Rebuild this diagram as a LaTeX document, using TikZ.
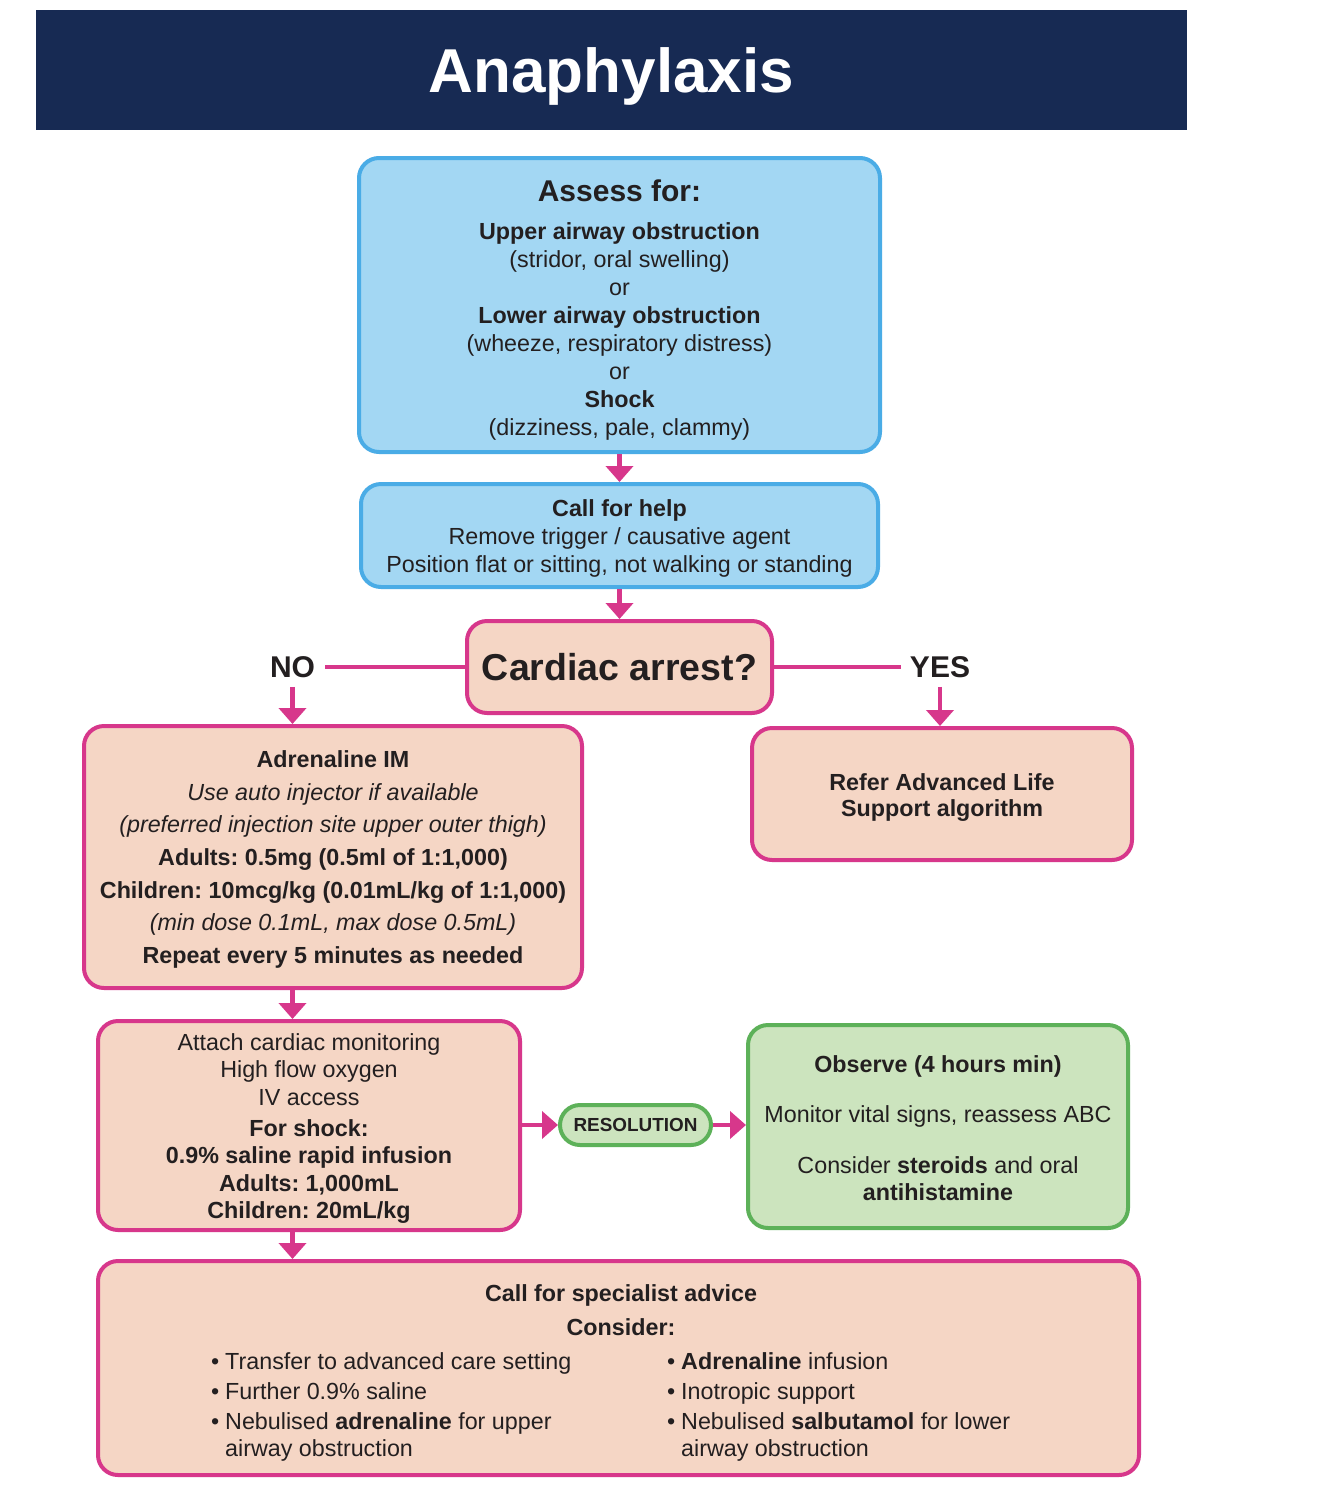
\documentclass[tikz,border=0pt]{standalone}
\usepackage{fontspec}
\setmainfont{Liberation Sans}
\frenchspacing
\usetikzlibrary{arrows.meta,calc}
\definecolor{navy}{HTML}{172A53}
\definecolor{bluefill}{HTML}{A3D7F3}
\definecolor{blueedge}{HTML}{4AACE6}
\definecolor{peach}{HTML}{F5D6C5}
\definecolor{pinkc}{HTML}{D7378B}
\definecolor{greenfill}{HTML}{CCE4BE}
\definecolor{greenedge}{HTML}{5DB159}
\definecolor{txt}{HTML}{231F20}
\tikzset{
  box/.style={rounded corners=20pt, line width=4pt, inner sep=0pt},
  bluebox/.style={box, draw=blueedge, fill=bluefill},
  pinkbox/.style={box, draw=pinkc, fill=peach},
  greenbox/.style={box, draw=greenedge, fill=greenfill},
  boxtext/.style={inner sep=0pt, align=center, text=txt, font=\fontsize{23.3}{28}\selectfont},
  arr/.style={draw=pinkc, line width=4.5pt, -{Triangle[width=27pt,length=16pt]}},
  pinkline/.style={draw=pinkc, line width=4.5pt},
  plain/.style={inner sep=0pt, text=txt, font=\fontsize{23.3}{27}\selectfont},
  yesno/.style={inner xsep=10pt, inner ysep=0pt, text height=21.5pt, text depth=0pt, text=txt,
    font=\fontsize{30}{30}\selectfont\bfseries},
}
\begin{document}
\begin{tikzpicture}[x=1pt,y=-1pt]
\useasboundingbox (0,0) rectangle (1334,1497);
\fill[white] (0,0) rectangle (1334,1497);

% title
\node[fill=navy, minimum width=1151pt, minimum height=120pt, inner sep=0pt,
  text=white, text height=44pt, text depth=0pt, font=\fontsize{62}{62}\selectfont\bfseries]
  (title) at (611.5,70) {Anaphylaxis};

% assess
\node[bluebox, minimum width=521pt, minimum height=294pt] (assess) at (619.5,305) {};
\node[boxtext] (assessT) at ($(assess.center)+(0,5)$)
  {{\fontsize{30}{28}\selectfont\bfseries Assess for:}\\[10pt]
   \textbf{Upper airway obstruction}\\
   (stridor, oral swelling)\\
   or\\
   \textbf{Lower airway obstruction}\\
   (wheeze, respiratory distress)\\
   or\\
   \textbf{Shock}\\
   (dizziness, pale, clammy)};

% call for help
\node[bluebox, minimum width=517pt, minimum height=103pt] (call) at (619.5,535.5) {};
\node[boxtext] (callT) at ($(call.center)+(0,3)$)
  {\textbf{Call for help}\\
   Remove trigger / causative agent\\
   Position flat or sitting, not walking or standing};

% cardiac arrest
\node[pinkbox, minimum width=305pt, minimum height=92pt, text height=26.9pt, text depth=0pt,
  text=txt, font=\fontsize{37.5}{40}\selectfont\bfseries] (cardiac) at (619.5,667) {Cardiac arrest?};

\node[yesno] (no) at (292.5,667) {NO};
\node[yesno, inner xsep=9pt] (yes) at (940,667) {YES};

% adrenaline
\node[pinkbox, minimum width=498pt, minimum height=262pt] (adren) at (333,857) {};
\node[boxtext, font=\fontsize{23.3}{32.7}\selectfont] (adrenT) at ($(adren.center)+(0,2.5)$)
  {\textbf{Adrenaline IM}\\
   \textit{Use auto injector if available}\\
   \textit{(preferred injection site upper outer thigh)}\\
   \textbf{Adults: 0.5mg (0.5ml of 1:1,000)}\\
   \textbf{Children: 10mcg/kg (0.01mL/kg of 1:1,000)}\\
   \textit{(min dose 0.1mL, max dose 0.5mL)}\\
   \textbf{Repeat every 5 minutes as needed}};

% refer
\node[pinkbox, minimum width=380pt, minimum height=132pt] (refer) at (942,794) {};
\node[boxtext, font=\fontsize{23.3}{26}\selectfont\bfseries] (referT) at ($(refer.center)+(0,4)$)
  {Refer Advanced Life\\Support algorithm};

% attach
\node[pinkbox, minimum width=422pt, minimum height=209pt] (attach) at (309,1125.5) {};
\node[boxtext, font=\fontsize{23.3}{27.3}\selectfont] (attachT) at ($(attach.center)+(0,3)$)
  {Attach cardiac monitoring\\
   High flow oxygen\\
   IV access\\[4pt]
   \textbf{For shock:}\\
   \textbf{0.9\% saline rapid infusion}\\
   \textbf{Adults: 1,000mL}\\
   \textbf{Children: 20mL/kg}};

% resolution
\node[greenbox, minimum width=151pt, minimum height=40pt, text=txt,
  font=\fontsize{18.9}{20}\selectfont\bfseries] (resol) at (635.5,1125) {RESOLUTION};

% observe
\node[greenbox, minimum width=380pt, minimum height=203pt] (observe) at (938,1126.5) {};
\node[boxtext, font=\fontsize{23.3}{27}\selectfont] (observeT) at ($(observe.center)+(0,1.5)$)
  {\textbf{Observe (4 hours min)}\\[23pt]
   Monitor vital signs, reassess ABC\\[24pt]
   Consider \textbf{steroids} and oral\\
   \textbf{antihistamine}};

% bottom
\node[pinkbox, minimum width=1041pt, minimum height=214pt] (bottom) at (618.5,1368) {};
\node[plain, anchor=base, font=\fontsize{23.3}{27}\selectfont\bfseries] (spec) at (621,1301.4)
  {Call for specialist advice};
\node[plain, anchor=base, font=\fontsize{23.3}{27}\selectfont\bfseries] (consider) at (621,1335.4)
  {Consider:};
\node[plain, anchor=north west, align=left] (leftcol) at (225,1352.5)
  {\llap{•\hspace{6pt}}Transfer to advanced care setting\\[3pt]
   \llap{•\hspace{6pt}}Further 0.9\% saline\\[3pt]
   \llap{•\hspace{6pt}}Nebulised \textbf{adrenaline} for upper\\
   airway obstruction};
\node[plain, anchor=north west, align=left] (rightcol) at (681,1352.5)
  {\llap{•\hspace{6pt}}\textbf{Adrenaline} infusion\\[3pt]
   \llap{•\hspace{6pt}}Inotropic support\\[3pt]
   \llap{•\hspace{6pt}}Nebulised \textbf{salbutamol} for lower\\
   airway obstruction};

% connectors
\draw[arr] (assess) -- (call);
\draw[arr] (call) -- (cardiac);
\draw[pinkline] (cardiac.west) -- (no.east);
\draw[pinkline] (cardiac.east) -- (yes.west);
\draw[arr] ([yshift=-9pt]no.south) -- (no |- adren.north);
\draw[arr] ([yshift=-9pt]yes.south) -- (yes |- refer.north);
\draw[arr] (no |- adren.south) -- (no |- attach.north);
\draw[arr] (no |- attach.south) -- (no |- bottom.north);
\draw[arr] (resol.west -| attach.east) -- (resol.west);
\draw[arr] (resol.east) -- (resol.east -| observe.west);
\end{tikzpicture}
\end{document}
